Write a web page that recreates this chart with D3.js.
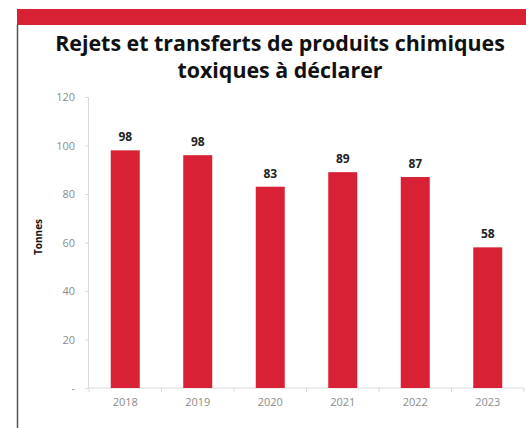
<!DOCTYPE html>
<html><head><meta charset="utf-8">
<script src="https://cdn.jsdelivr.net/npm/d3@7"></script>
<style>html,body{margin:0;padding:0;background:#fff;}</style>
</head><body>
<script>
const categories = ["2018","2019","2020","2021","2022","2023"];
const values = [98, 96, 83, 89, 87, 58];
const valueLabels = ["98","98","83","89","87","58"];
const yTicks = [0,20,40,60,80,100,120];
const yTickLabels = ["-","20","40","60","80","100","120"];
const titleLines = ["Rejets et transferts de produits chimiques","toxiques à déclarer"];
const yTitle = "Tonnes";

const W=526,H=428, red="#d92135";
const svg=d3.select("body").append("svg").attr("width",W).attr("height",H);
svg.append("rect").attr("x",17).attr("y",9).attr("width",W-17).attr("height",16).attr("fill",red);
svg.append("line").attr("x1",17.5).attr("x2",17.5).attr("y1",25).attr("y2",H).attr("stroke","#555").attr("stroke-width",1.5);

const titles=svg.selectAll("text.title").data(titleLines).join("text").attr("class","title")
  .attr("x",280).attr("y",(d,i)=>51+i*27).attr("text-anchor","middle")
  .attr("font-family","Open Sans, sans-serif").attr("font-weight","bold").attr("font-size",20).attr("fill","#111").text(d=>d);
const w0=titles.node().getComputedTextLength();
titles.attr("font-size",Math.min(22,20*450/w0));

const x=d3.scaleBand().domain(categories).range([89,524]).paddingInner(0.6).paddingOuter(0.3);
const y=d3.scaleLinear().domain([0,120]).range([388,97]);

// y axis
const ya=svg.append("g").attr("transform","translate(88,0)")
  .call(d3.axisLeft(y).tickValues(yTicks).tickSize(3).tickFormat((d,i)=>yTickLabels[i]));
ya.select(".domain").attr("stroke","#d9d9d9");
ya.selectAll(".tick line").attr("stroke","#d9d9d9");
ya.selectAll(".tick text").attr("fill","#8c8c8c").attr("font-family","Open Sans, sans-serif").attr("font-size",11).attr("x",-13);

// x axis
const xa=svg.append("g").attr("transform","translate(0,388)")
  .call(d3.axisBottom(x).tickSize(0).tickPadding(10));
xa.select(".domain").attr("stroke","#d9d9d9").attr("d","M89,0H524");
xa.selectAll(".tick text").attr("fill","#8c8c8c").attr("font-family","Open Sans, sans-serif").attr("font-size",11);
xa.selectAll("line.bt").data(d3.range(categories.length+1)).join("line").attr("class","bt")
  .attr("x1",i=>89+i*(435/categories.length)).attr("x2",i=>89+i*(435/categories.length))
  .attr("y1",0).attr("y2",4).attr("stroke","#d9d9d9");

svg.selectAll("rect.bar").data(values).join("rect").attr("class","bar")
  .attr("x",(d,i)=>x(categories[i])).attr("width",x.bandwidth())
  .attr("y",d=>y(d)).attr("height",d=>y(0)-y(d)).attr("fill",red);

svg.selectAll("text.vl").data(values).join("text").attr("class","vl")
  .attr("x",(d,i)=>x(categories[i])+x.bandwidth()/2).attr("y",d=>y(d)-9)
  .attr("text-anchor","middle").attr("font-family","Open Sans, sans-serif").attr("font-weight","bold")
  .attr("font-size",12).attr("fill","#222").text((d,i)=>valueLabels[i]);

svg.append("text").attr("transform","translate(42,237) rotate(-90)").attr("text-anchor","middle")
  .attr("font-family","Open Sans, sans-serif").attr("font-weight","bold").attr("font-size",10).attr("fill","#111").text(yTitle);
</script>
</body></html>
